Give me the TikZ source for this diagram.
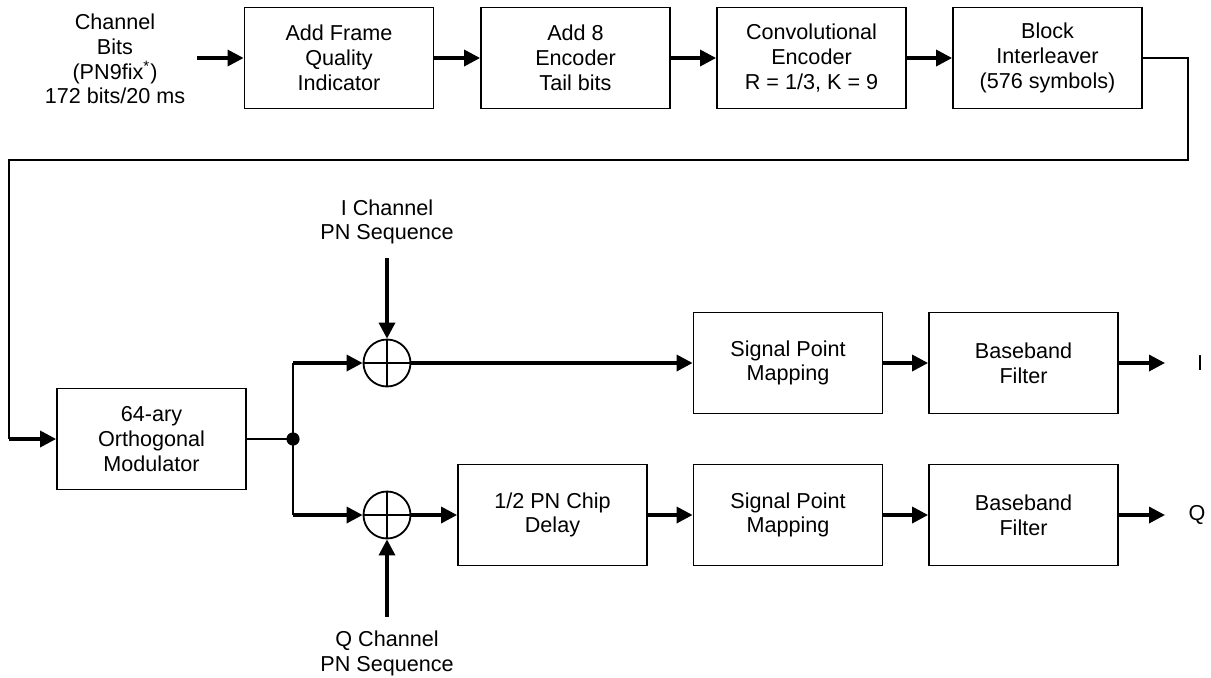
\documentclass[tikz,border=0pt]{standalone}
\usepackage{fontspec}
\setmainfont{Liberation Sans}
\usetikzlibrary{arrows.meta}
\begin{document}
\begin{tikzpicture}[x=0.5pt,y=-0.5pt,
  every node/.style={font=\fontsize{10.8pt}{12.4pt}\selectfont, align=center, inner sep=0pt},
  blk/.style={draw, line width=0.9pt, minimum width=94.5pt, minimum height=50.5pt},
  adder/.style={draw, circle, line width=0.9pt, minimum size=23.5pt},
  thinline/.style={line width=0.9pt},
  sig/.style={line width=1.7pt, -{Triangle[length=8pt,width=8pt]}}]
\useasboundingbox (0,0) rectangle (1211,677);

% top row: frame building and coding
\node[blk] (fqi) at (339,58) {Add Frame\\Quality\\Indicator};
\node[blk] (tail) at (575.5,58) {Add 8\\Encoder\\Tail bits};
\node[blk] (conv) at (811.5,58) {Convolutional\\Encoder\\R = 1/3, K = 9};
\node[blk] (intl) at (1047.5,58) {Block\\Interleaver\\(576 symbols)};
\node (src) at (115,59) {Channel\\Bits\\(PN9fix\textsuperscript{*})\\172 bits/20 ms};
\coordinate (in) at (197,58);

\draw[sig] (in) -- (fqi.west);
\draw[sig] (fqi.east) -- (tail.west);
\draw[sig] (tail.east) -- (conv.west);
\draw[sig] (conv.east) -- (intl.west);

% modulator and spreading
\node[blk] (mod) at (151.5,439) {64-ary\\Orthogonal\\Modulator};
\coordinate (r1) at (1188,58);
\coordinate (r2) at (1188,160);
\coordinate (l1) at (9,160);
\coordinate (l2) at (9,439);
\draw[thinline] (intl.east) -- (r1) -- (r2) -- (l1) -- (l2);
\draw[sig] (l2) -- (mod.west);

\coordinate (j) at (293,439);
\coordinate (ju) at (293,363);
\coordinate (jd) at (293,515);
\draw[thinline] (mod.east) -- (j);
\draw[thinline] (ju) -- (jd);
\fill (j) circle (3.3pt);

\node[adder] (ai) at (387,363) {};
\node[adder] (aq) at (387,515) {};
\foreach \a in {ai,aq} {
  \draw[thinline] (\a.north) -- (\a.south);
  \draw[thinline] (\a.west) -- (\a.east);
}

\node (ipn) at (387,222) {I Channel\\PN Sequence};
\node (qpn) at (387,653) {Q Channel\\PN Sequence};
\coordinate (ipnin) at (387,258);
\coordinate (qpnin) at (387,617);
\draw[sig] (ipnin) -- (ai.north);
\draw[sig] (qpnin) -- (aq.south);

\draw[sig] (ju) -- (ai.west);
\draw[sig] (jd) -- (aq.west);

\node[blk] (dly) at (552.5,515) {1/2 PN Chip\\Delay};
\node[blk] (spmi) at (788,363) {Signal Point\\Mapping};
\node[blk] (spmq) at (788,515) {Signal Point\\Mapping};
\node[blk] (bbi) at (1023.5,363) {Baseband\\Filter};
\node[blk] (bbq) at (1023.5,515) {Baseband\\Filter};

\draw[sig] (ai.east) -- (spmi.west);
\draw[sig] (aq.east) -- (dly.west);
\draw[sig] (dly.east) -- (spmq.west);
\draw[sig] (spmi.east) -- (bbi.west);
\draw[sig] (spmq.east) -- (bbq.west);

\coordinate (io) at (1165,363);
\coordinate (qo) at (1165,515);
\draw[sig] (bbi.east) -- (io);
\draw[sig] (bbq.east) -- (qo);
\node (ilab) at (1200,363) {I};
\node (qlab) at (1197,515) {Q};
\end{tikzpicture}
\end{document}
